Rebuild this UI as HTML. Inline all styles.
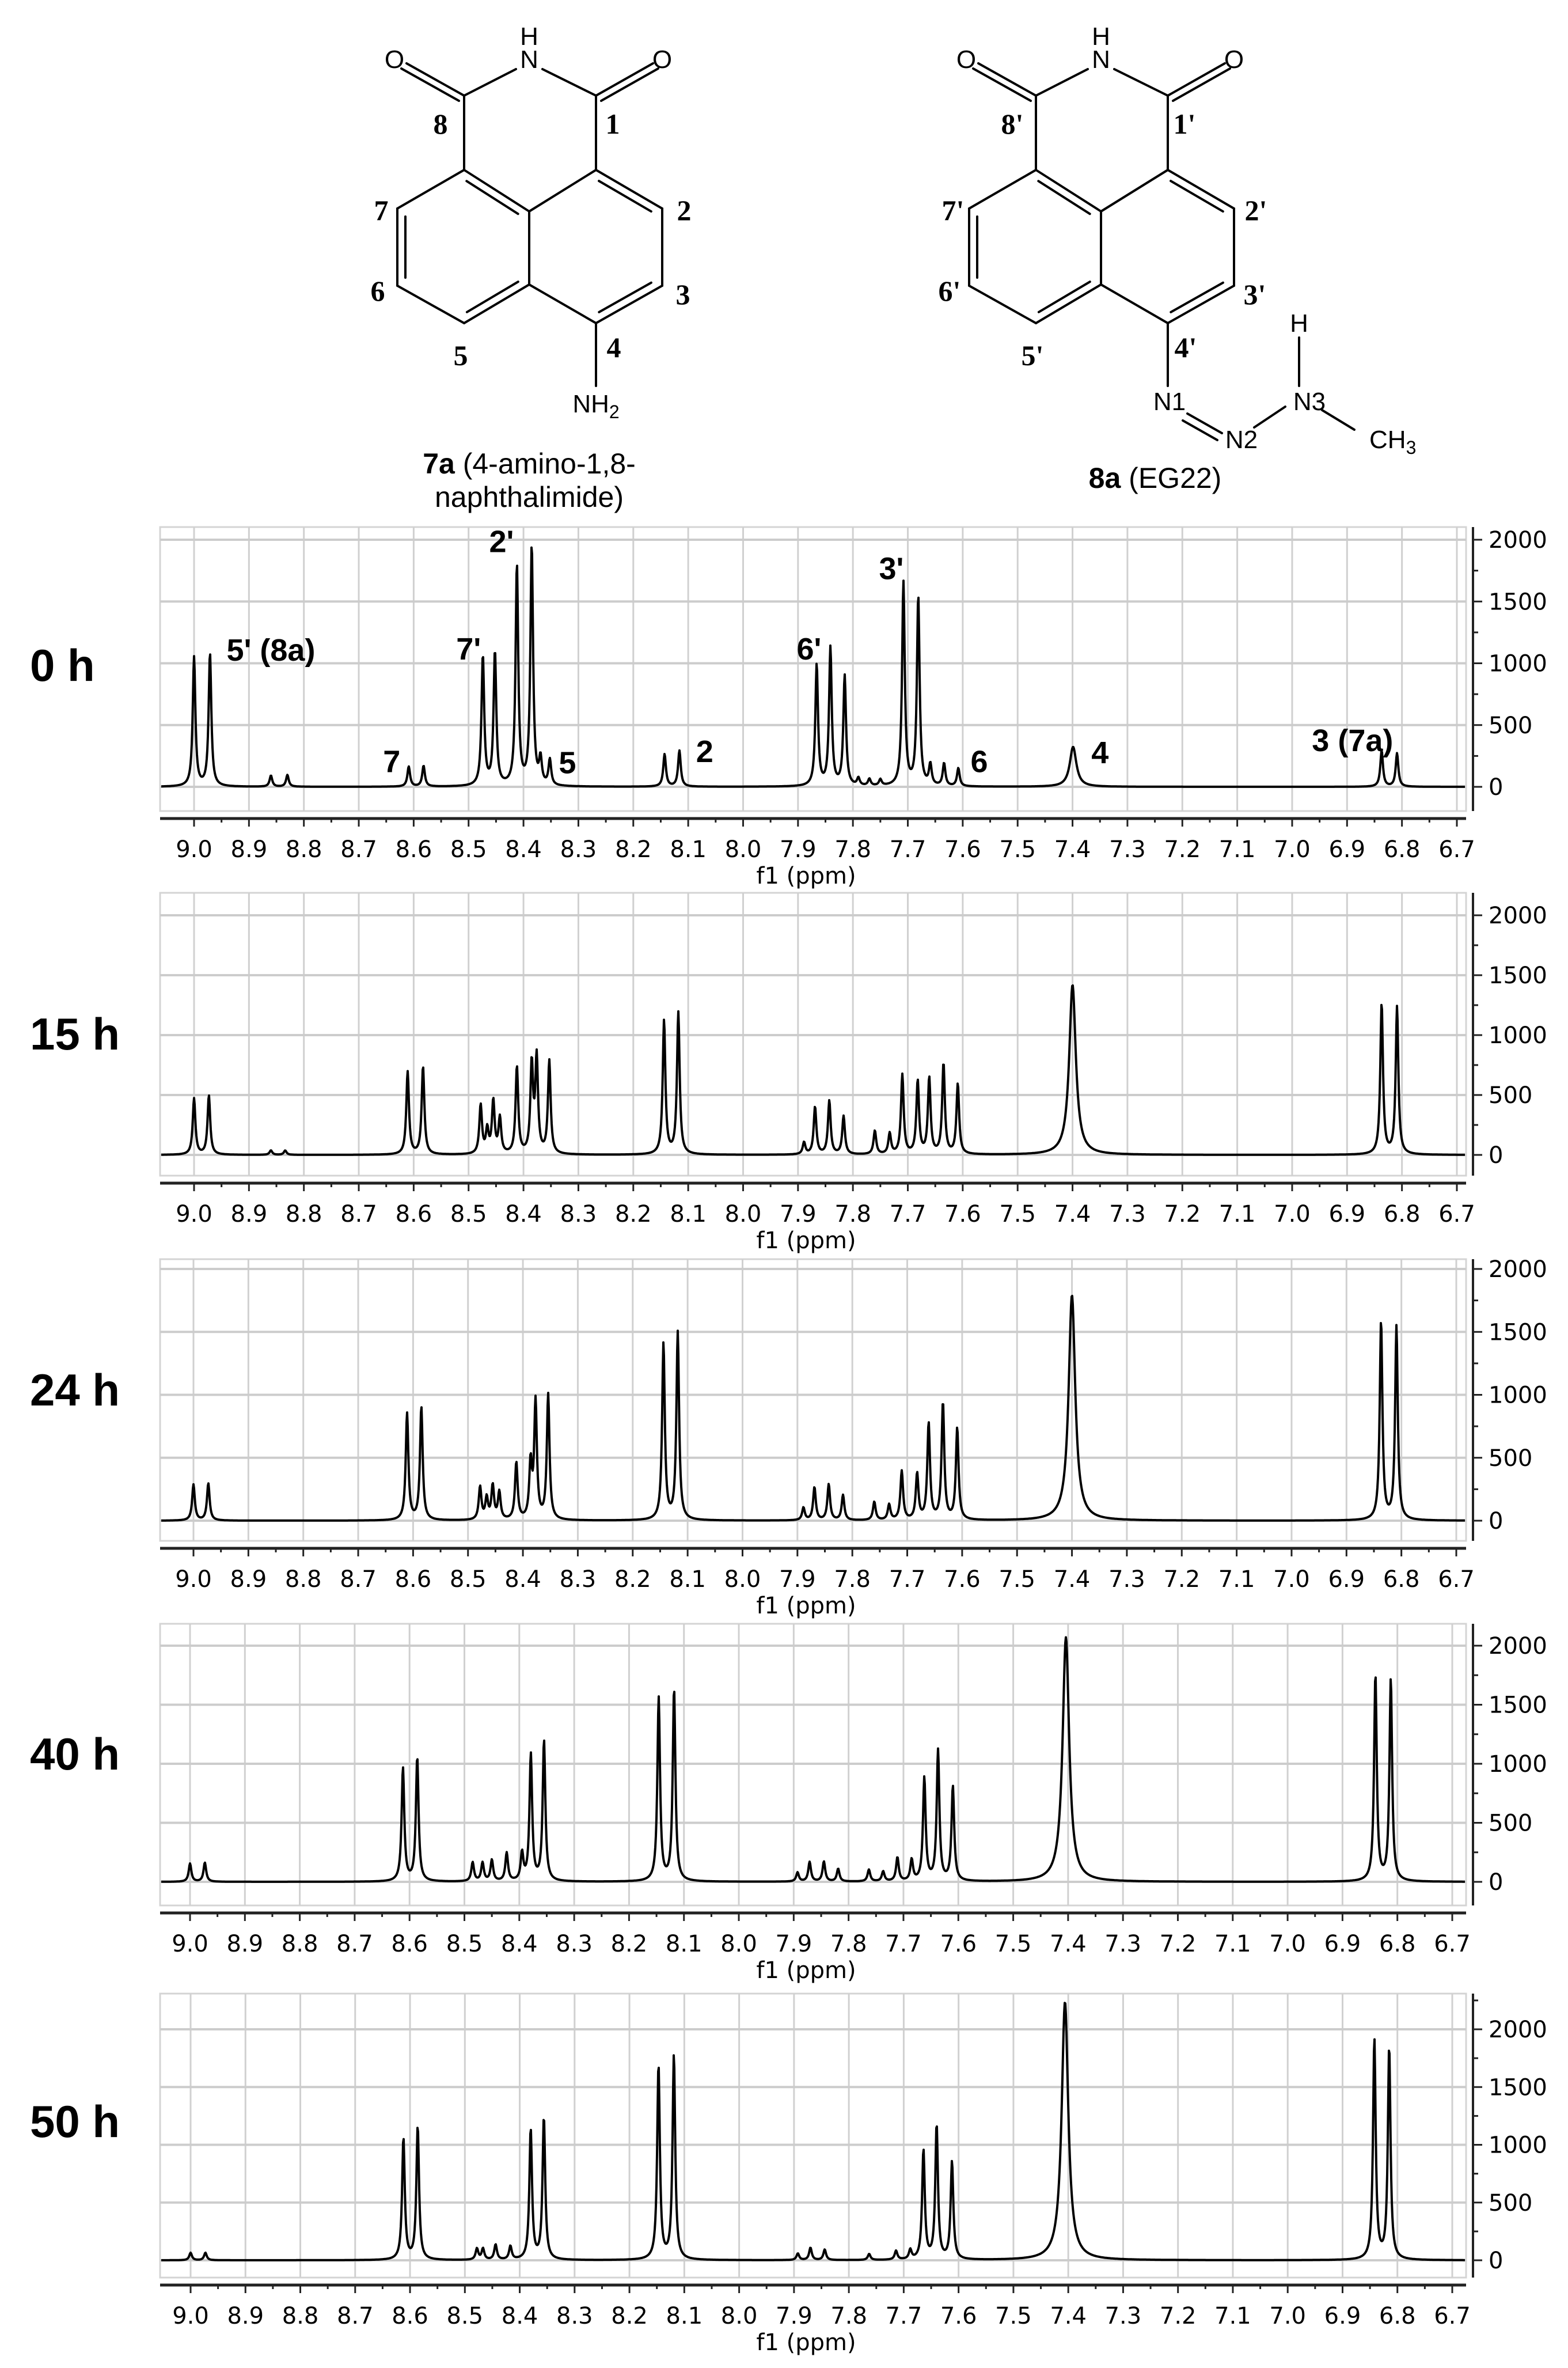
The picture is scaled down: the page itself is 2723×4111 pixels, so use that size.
<!DOCTYPE html>
<html><head><meta charset="utf-8">
<style>
html,body{margin:0;padding:0;background:#fff;}
svg{display:block;}
.lab{font-family:"Liberation Serif",serif;font-weight:bold;font-size:50px;}
.atom{font-family:"Liberation Sans",sans-serif;font-size:44px;}
.cap{font-family:"Liberation Sans",sans-serif;font-size:50px;}
.tick{font-family:"DejaVu Sans",sans-serif;font-size:40px;fill:#000;}
.time{font-family:"Liberation Sans",sans-serif;font-weight:bold;font-size:78px;}
.ann{font-family:"Liberation Sans",sans-serif;font-weight:bold;font-size:54px;}
</style></head>
<body>
<svg id="fig" width="2723" height="4111" viewBox="0 0 2723 4111" xmlns="http://www.w3.org/2000/svg">
<g id="mol" stroke="#000" stroke-width="4" fill="none" stroke-linecap="round"></g>
<g id="moltext"></g>
<g id="charts"></g>
</svg>
<script>
// ===== Spectrum data (ppm positions and intensities) =====
const ppm0h = [9.000,8.971,8.860,8.830,8.609,8.582,8.474,8.452,8.412,8.385,8.369,8.352,8.143,8.116,7.866,7.841,7.815,7.790,7.770,7.750,7.708,7.681,7.659,7.634,7.608,7.399,6.837,6.809];
const int0h = [1047,1078,90,95,162,168,1053,1084,1786,1942,205,208,262,291,984,1118,891,60,55,50,1650,1532,169,183,146,323,291,270];

const ppm15h = [9.000,8.973,8.860,8.834,8.611,8.583,8.478,8.466,8.455,8.443,8.412,8.385,8.376,8.353,8.144,8.118,7.889,7.869,7.843,7.817,7.760,7.733,7.710,7.682,7.661,7.635,7.609,7.400,6.837,6.809];
const int15h = [469,494,37,36,691,735,408,197,440,295,728,743,791,777,1117,1184,100,398,447,319,197,173,663,610,634,756,586,1419,1261,1231];

const ppm24h = [9.000,8.973,8.611,8.585,8.478,8.466,8.455,8.443,8.412,8.386,8.377,8.354,8.144,8.118,7.889,7.869,7.843,7.817,7.760,7.733,7.710,7.682,7.661,7.635,7.609,7.400,6.837,6.809];
const int24h = [285,295,849,900,262,170,269,218,454,438,931,995,1403,1491,100,262,285,200,146,123,388,365,766,931,729,1792,1582,1538];

const ppm40h = [9.000,8.973,8.612,8.586,8.485,8.467,8.450,8.423,8.395,8.379,8.355,8.146,8.118,7.893,7.871,7.845,7.819,7.763,7.737,7.711,7.685,7.662,7.637,7.610,7.404,6.840,6.812];
const int40h = [154,162,961,1051,161,157,179,239,231,1072,1190,1554,1628,77,166,169,108,100,84,202,179,874,1105,802,2070,1752,1710];

const ppm50h = [9.000,8.973,8.612,8.586,8.478,8.467,8.444,8.417,8.380,8.356,8.147,8.119,7.893,7.870,7.844,7.763,7.714,7.688,7.664,7.640,7.612,7.406,6.842,6.815];
const int50h = [65,65,1054,1154,97,97,132,117,1129,1232,1685,1769,57,107,91,52,77,82,946,1164,846,2237,1909,1839];

const timeLabels = ["0 h","15 h","24 h","40 h","50 h"];
const xTicks = [9.0,8.9,8.8,8.7,8.6,8.5,8.4,8.3,8.2,8.1,8.0,7.9,7.8,7.7,7.6,7.5,7.4,7.3,7.2,7.1,7.0,6.9,6.8,6.7];
const yTicks = [0,500,1000,1500,2000];
const broadPeakPpm = [7.399,7.400,7.404,7.406];

const annLabels = ["5' (8a)","7'","2'","7","5","2","6'","3'","6","4","3 (7a)"];
const annPpm =    [8.86, 8.50, 8.44, 8.64, 8.32, 8.07, 7.88, 7.73, 7.57, 7.35, 6.89];
const annInt =    [1020, 1030, 1900, 120, 110, 200, 1030, 1680, 120, 190, 290];

const NS = "http://www.w3.org/2000/svg";
function mk(tag, attrs, parent){
  const e = document.createElementNS(NS, tag);
  for (const k in attrs) e.setAttribute(k, attrs[k]);
  if (parent) parent.appendChild(e);
  return e;
}

// ===== Chemical structures =====
const mol = document.getElementById('mol');
const mt = document.getElementById('moltext');
function line(x1,y1,x2,y2){
  const l = mk('line',{x1:x1,y1:y1,x2:x2,y2:y2},mol);
  
  
}
function innerLine(a,b,c,off,shrink){
  const dx=b[0]-a[0], dy=b[1]-a[1], L=Math.hypot(dx,dy);
  let nx=-dy/L, ny=dx/L;
  const mx=(a[0]+b[0])/2, my=(a[1]+b[1])/2;
  if ((c[0]-mx)*nx+(c[1]-my)*ny<0){nx=-nx;ny=-ny;}
  const s=shrink/L;
  line(a[0]+dx*s+nx*off, a[1]+dy*s+ny*off, b[0]-dx*s+nx*off, b[1]-dy*s+ny*off);
}
function txt(x,y,str,cls,anchor,parent){
  const t = mk('text',{x:x,y:y,'class':cls,'text-anchor':anchor||'middle'},parent||mt);
  t.textContent = str;
  
  
  return t;
}
function drawCore(dx, prime){
  const P = (x,y)=>[x+dx,y];
  const C8=P(806,166), C1=P(1035,166), C8a=P(806,295), C1a=P(1035,295),
        Ct=P(919,367), Cb=P(919,494), C7=P(690,362), C2=P(1150,362),
        C6=P(690,496), C3=P(1150,496), C5=P(806,561), C4=P(1035,561);
  const L=[804+dx,430], R=[1034+dx,430];
  line(C8[0],C8[1],896+dx,120); line(C1[0],C1[1],942+dx,120);
  line(C8[0],C8[1],706+dx,110); line(C8[0]-9,C8[1]+9,697+dx,119);
  line(C1[0],C1[1],1134+dx,110); line(C1[0]+9,C1[1]+9,1143+dx,119);
  line(C8[0],C8[1],C8a[0],C8a[1]); line(C1[0],C1[1],C1a[0],C1a[1]);
  const bonds=[[C8a,C7],[C7,C6],[C6,C5],[C5,Cb],[Cb,Ct],[Ct,C8a],[Ct,C1a],[C1a,C2],[C2,C3],[C3,C4],[C4,Cb]];
  bonds.forEach(b=>line(b[0][0],b[0][1],b[1][0],b[1][1]));
  innerLine(C8a,Ct,L,14,14); innerLine(C7,C6,L,14,14); innerLine(C5,Cb,L,14,14);
  innerLine(C1a,C2,R,14,14); innerLine(C3,C4,R,14,14);
  line(C4[0],C4[1],C4[0],670);
  txt(919+dx,78,'H','atom'); txt(919+dx,118,'N','atom');
  txt(685+dx,118,'O','atom'); txt(1150+dx,118,'O','atom');
  const p = prime ? "'" : "";
  txt(765+dx,232,'8'+p,'lab'); txt(1064+dx,232,'1'+p,'lab');
  txt(662+dx,382,'7'+p,'lab'); txt(1188+dx,382,'2'+p,'lab');
  txt(656+dx,522,'6'+p,'lab'); txt(1186+dx,528,'3'+p,'lab');
  txt(800+dx,634,'5'+p,'lab'); txt(1066+dx,620,'4'+p,'lab');
}
drawCore(0,false);
drawCore(993,true);
(function(){
  const t = txt(1035,716,'NH','atom','middle');
  const s = mk('tspan',{'font-size':'32','dy':'10'},t); s.textContent='2';
})();
line(2062,718,2122,752); line(2054,730,2114,764);
line(2178,742,2232,706);
line(2256,586,2256,670);
line(2296,712,2352,746);
txt(2031,712,'N1','atom'); txt(2156,778,'N2','atom'); txt(2274,712,'N3','atom');
txt(2256,576,'H','atom');
(function(){
  const t = txt(2378,778,'CH','atom','start');
  const s = mk('tspan',{'font-size':'32','dy':'10'},t); s.textContent='3';
})();
(function(){
  let t = txt(919,822,'','cap');
  let b = mk('tspan',{'font-weight':'bold'},t); b.textContent='7a';
  let r = mk('tspan',{},t); r.textContent=' (4-amino-1,8-';
  txt(919,880,'naphthalimide)','cap');
  t = txt(2006,847,'','cap');
  b = mk('tspan',{'font-weight':'bold'},t); b.textContent='8a';
  r = mk('tspan',{},t); r.textContent=' (EG22)';
})();

// ===== Spectra =====
const panels = [
  {ppm:ppm0h,  ints:int0h,  top:915,  bottom:1408, y0:1366, y2000:937,  x9:337, x67:2530, ymax:2000},
  {ppm:ppm15h, ints:int15h, top:1550, bottom:2041, y0:2005, y2000:1589, x9:337, x67:2530, ymax:2000},
  {ppm:ppm24h, ints:int24h, top:2186, bottom:2675, y0:2640, y2000:2203, x9:336, x67:2529, ymax:2000},
  {ppm:ppm40h, ints:int40h, top:2819, bottom:3308, y0:3267, y2000:2857, x9:330, x67:2522, ymax:2000},
  {ppm:ppm50h, ints:int50h, top:3461, bottom:3954, y0:3924, y2000:3523, x9:331, x67:2522, ymax:2250}
];
const timeY = [1182, 1822, 2440, 3072, 3710];
const PL = 278, PR = 2546, YA = 2558;
const charts = document.getElementById('charts');

panels.forEach((p, i) => {
  const g = mk('g',{},charts);
  
  
  const xs = v => p.x9 + (9.0 - v) / 2.3 * (p.x67 - p.x9);
  const ys = v => p.y0 - v * (p.y0 - p.y2000) / 2000;

  const tl = mk('text',{x:52,y:timeY[i],'class':'time'},g);
  tl.textContent = timeLabels[i];
  
  

  const box = mk('rect',{x:PL,y:p.top,width:PR-PL,height:p.bottom-p.top,fill:'none',stroke:'#d4d4d4','stroke-width':3},g);
  
  

  xTicks.forEach(t => {
    const gl = mk('line',{x1:xs(t),x2:xs(t),y1:p.top,y2:p.bottom,stroke:'#d0d0d0','stroke-width':3},g);
    
    
  });
  yTicks.forEach(t => {
    const gl = mk('line',{x1:PL,x2:PR,y1:ys(t),y2:ys(t),stroke:'#cccccc','stroke-width':4},g);
    
    
  });

  let d = '';
  for (let px = PL + 2; px <= PR - 2; px += 1) {
    const v = 9.0 - (px - p.x9) / (p.x67 - p.x9) * 2.3;
    let s = 0;
    for (let k = 0; k < p.ppm.length; k++) {
      const w = broadPeakPpm.includes(p.ppm[k]) ? 0.0072 : 0.0029;
      const q = (v - p.ppm[k]) / w;
      s += p.ints[k] / (1 + q * q);
    }
    let y = ys(s);
    if (y < p.top) y = p.top;
    d += (d ? 'L' : 'M') + px + ' ' + y.toFixed(1);
  }
  const tr = mk('path',{d:d,fill:'none',stroke:'#000','stroke-width':4,'stroke-linejoin':'round'},g);
  
  

  const ax = mk('line',{x1:PL,x2:PR,y1:p.bottom+13,y2:p.bottom+13,stroke:'#222','stroke-width':5},g);
  
  
  xTicks.forEach((t, j) => {
    const tk = mk('line',{x1:xs(t),x2:xs(t),y1:p.bottom+13,y2:p.bottom+27,stroke:'#222','stroke-width':3},g);
    
    
    if (j < xTicks.length - 1) {
      const mn = mk('line',{x1:xs(t-0.05),x2:xs(t-0.05),y1:p.bottom+13,y2:p.bottom+20,stroke:'#222','stroke-width':3},g);
      
      
    }
    const lb = mk('text',{x:xs(t),y:p.bottom+80,'class':'tick','text-anchor':'middle'},g);
    lb.textContent = t.toFixed(1);
    
    
  });
  const xt = mk('text',{x:1400,y:p.bottom+126,'class':'tick','text-anchor':'middle'},g);
  xt.textContent = 'f1 (ppm)';
  
  

  const ya = mk('line',{x1:YA,x2:YA,y1:p.top,y2:p.bottom,stroke:'#222','stroke-width':4},g);
  
  
  for (let v = 0; v <= p.ymax; v += 250) {
    const major = v % 500 === 0;
    const tk = mk('line',{x1:YA,x2:YA+(major?16:9),y1:ys(v),y2:ys(v),stroke:'#222','stroke-width':3},g);
    
    
  }
  yTicks.forEach(t => {
    const lb = mk('text',{x:2585,y:ys(t)+14,'class':'tick','text-anchor':'start'},g);
    lb.textContent = String(t);
    
    
  });

  if (i === 0) {
    annLabels.forEach((a, k) => {
      const at = mk('text',{x:xs(annPpm[k]),y:ys(annInt[k]),'class':'ann','text-anchor':'middle'},g);
      at.textContent = a;
      
      
    });
  }
});
</script>
</body></html>
